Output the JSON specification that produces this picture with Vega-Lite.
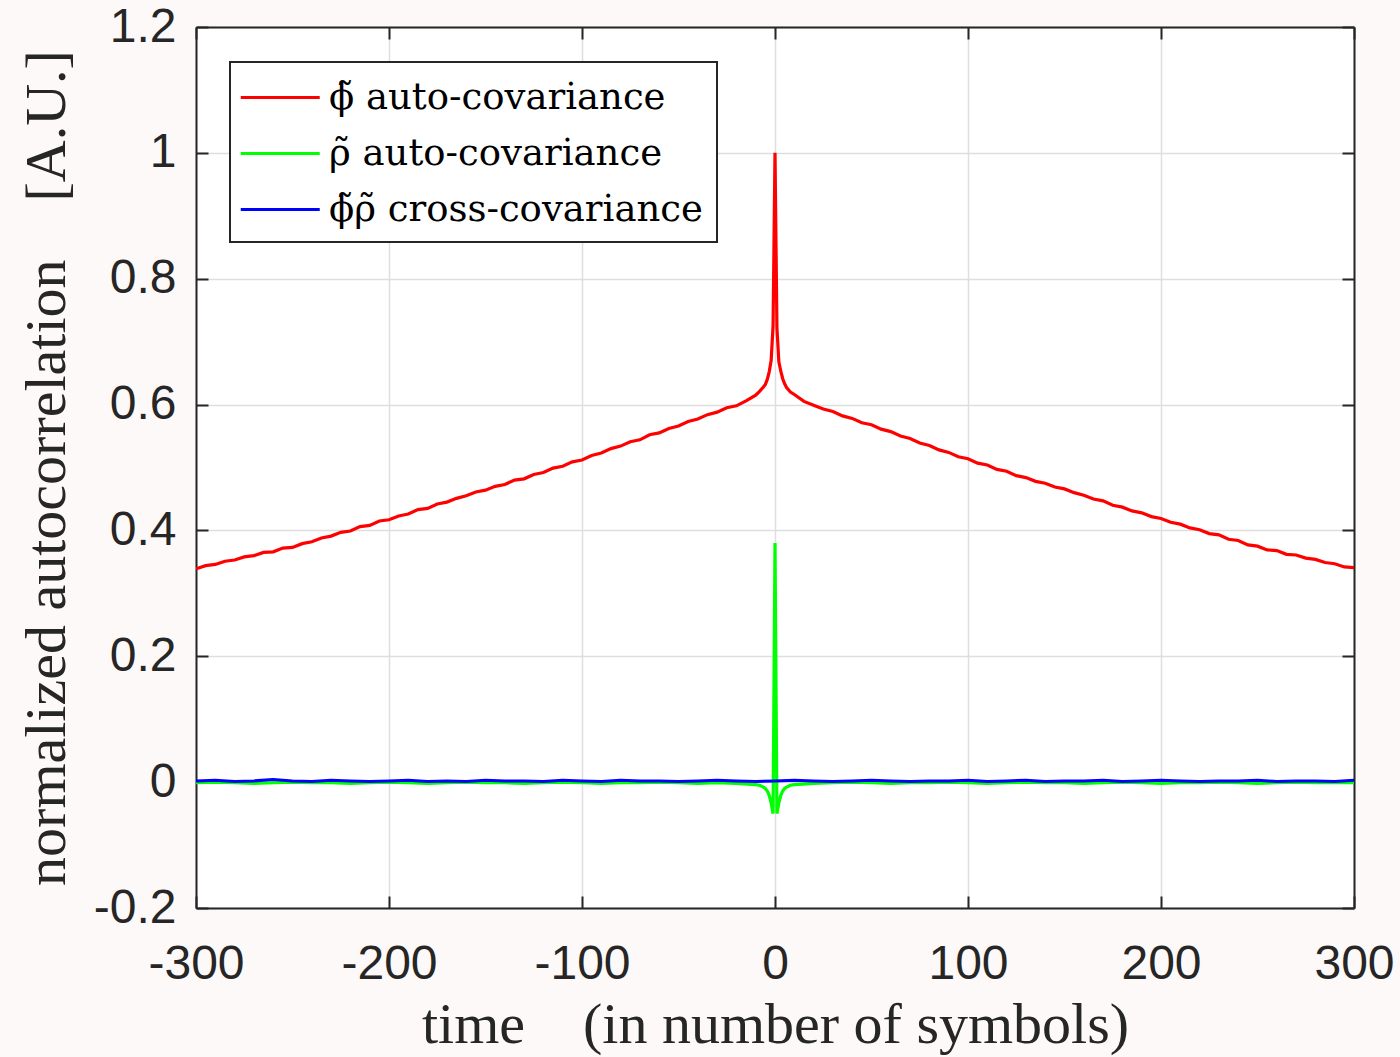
{
  "$schema": "https://vega.github.io/schema/vega-lite/v6.json",
  "width": 1158,
  "height": 881,
  "autosize": {"type": "none"},
  "padding": {"left": 196, "top": 27, "right": 46, "bottom": 149},
  "background": "#fdf9f8",
  "config": {
    "view": {"fill": "white", "stroke": null},
    "axis": {
      "labelFont": "Liberation Sans",
      "labelFontSize": 48,
      "labelColor": "#262626",
      "titleFont": "Liberation Serif",
      "titleFontSize": 58,
      "titleFontWeight": "normal",
      "titleColor": "#262626",
      "domainColor": "#262626",
      "domainWidth": 2,
      "tickColor": "#262626",
      "tickWidth": 2,
      "tickSize": -12,
      "gridColor": "#dedede",
      "gridWidth": 1.5
    }
  },
  "datasets": {
    "curves": [
      {"s": "phi", "x": -300, "y": 0.339}, {"s": "phi", "x": -295, "y": 0.344}, {"s": "phi", "x": -290, "y": 0.346},
      {"s": "phi", "x": -285, "y": 0.351}, {"s": "phi", "x": -280, "y": 0.353}, {"s": "phi", "x": -275, "y": 0.358},
      {"s": "phi", "x": -270, "y": 0.360}, {"s": "phi", "x": -265, "y": 0.365}, {"s": "phi", "x": -260, "y": 0.366},
      {"s": "phi", "x": -255, "y": 0.372}, {"s": "phi", "x": -250, "y": 0.373}, {"s": "phi", "x": -245, "y": 0.379},
      {"s": "phi", "x": -240, "y": 0.382}, {"s": "phi", "x": -235, "y": 0.388}, {"s": "phi", "x": -230, "y": 0.391},
      {"s": "phi", "x": -225, "y": 0.397}, {"s": "phi", "x": -220, "y": 0.399}, {"s": "phi", "x": -215, "y": 0.406},
      {"s": "phi", "x": -210, "y": 0.408}, {"s": "phi", "x": -205, "y": 0.415}, {"s": "phi", "x": -200, "y": 0.417},
      {"s": "phi", "x": -195, "y": 0.423}, {"s": "phi", "x": -190, "y": 0.426}, {"s": "phi", "x": -185, "y": 0.433},
      {"s": "phi", "x": -180, "y": 0.435}, {"s": "phi", "x": -175, "y": 0.442}, {"s": "phi", "x": -170, "y": 0.445},
      {"s": "phi", "x": -165, "y": 0.451}, {"s": "phi", "x": -160, "y": 0.455}, {"s": "phi", "x": -155, "y": 0.461},
      {"s": "phi", "x": -150, "y": 0.464}, {"s": "phi", "x": -145, "y": 0.470}, {"s": "phi", "x": -140, "y": 0.473},
      {"s": "phi", "x": -135, "y": 0.480}, {"s": "phi", "x": -130, "y": 0.482}, {"s": "phi", "x": -125, "y": 0.489},
      {"s": "phi", "x": -120, "y": 0.492}, {"s": "phi", "x": -115, "y": 0.499}, {"s": "phi", "x": -110, "y": 0.502},
      {"s": "phi", "x": -105, "y": 0.509}, {"s": "phi", "x": -100, "y": 0.512}, {"s": "phi", "x": -95, "y": 0.519},
      {"s": "phi", "x": -90, "y": 0.523}, {"s": "phi", "x": -85, "y": 0.530}, {"s": "phi", "x": -80, "y": 0.534},
      {"s": "phi", "x": -75, "y": 0.541}, {"s": "phi", "x": -70, "y": 0.544}, {"s": "phi", "x": -65, "y": 0.552},
      {"s": "phi", "x": -60, "y": 0.555}, {"s": "phi", "x": -55, "y": 0.562}, {"s": "phi", "x": -50, "y": 0.566},
      {"s": "phi", "x": -45, "y": 0.573}, {"s": "phi", "x": -40, "y": 0.577}, {"s": "phi", "x": -35, "y": 0.584},
      {"s": "phi", "x": -30, "y": 0.588}, {"s": "phi", "x": -25, "y": 0.595}, {"s": "phi", "x": -20, "y": 0.598},
      {"s": "phi", "x": -15, "y": 0.606}, {"s": "phi", "x": -10, "y": 0.615}, {"s": "phi", "x": -8, "y": 0.621},
      {"s": "phi", "x": -6, "y": 0.628}, {"s": "phi", "x": -5, "y": 0.632}, {"s": "phi", "x": -4, "y": 0.640},
      {"s": "phi", "x": -3, "y": 0.652}, {"s": "phi", "x": -2, "y": 0.670}, {"s": "phi", "x": -1, "y": 0.725},
      {"s": "phi", "x": 0, "y": 1.0},
      {"s": "phi", "x": 1, "y": 0.722}, {"s": "phi", "x": 2, "y": 0.668}, {"s": "phi", "x": 3, "y": 0.653},
      {"s": "phi", "x": 4, "y": 0.641}, {"s": "phi", "x": 5, "y": 0.633}, {"s": "phi", "x": 6, "y": 0.627},
      {"s": "phi", "x": 8, "y": 0.620}, {"s": "phi", "x": 10, "y": 0.616}, {"s": "phi", "x": 15, "y": 0.605},
      {"s": "phi", "x": 20, "y": 0.599}, {"s": "phi", "x": 25, "y": 0.593}, {"s": "phi", "x": 30, "y": 0.589},
      {"s": "phi", "x": 35, "y": 0.582}, {"s": "phi", "x": 40, "y": 0.578}, {"s": "phi", "x": 45, "y": 0.571},
      {"s": "phi", "x": 50, "y": 0.568}, {"s": "phi", "x": 55, "y": 0.561}, {"s": "phi", "x": 60, "y": 0.557},
      {"s": "phi", "x": 65, "y": 0.550}, {"s": "phi", "x": 70, "y": 0.546}, {"s": "phi", "x": 75, "y": 0.539},
      {"s": "phi", "x": 80, "y": 0.535}, {"s": "phi", "x": 85, "y": 0.528}, {"s": "phi", "x": 90, "y": 0.524},
      {"s": "phi", "x": 95, "y": 0.517}, {"s": "phi", "x": 100, "y": 0.514}, {"s": "phi", "x": 105, "y": 0.507},
      {"s": "phi", "x": 110, "y": 0.504}, {"s": "phi", "x": 115, "y": 0.497}, {"s": "phi", "x": 120, "y": 0.494},
      {"s": "phi", "x": 125, "y": 0.487}, {"s": "phi", "x": 130, "y": 0.484}, {"s": "phi", "x": 135, "y": 0.478},
      {"s": "phi", "x": 140, "y": 0.475}, {"s": "phi", "x": 145, "y": 0.469}, {"s": "phi", "x": 150, "y": 0.466},
      {"s": "phi", "x": 155, "y": 0.460}, {"s": "phi", "x": 160, "y": 0.456}, {"s": "phi", "x": 165, "y": 0.450},
      {"s": "phi", "x": 170, "y": 0.447}, {"s": "phi", "x": 175, "y": 0.440}, {"s": "phi", "x": 180, "y": 0.437},
      {"s": "phi", "x": 185, "y": 0.431}, {"s": "phi", "x": 190, "y": 0.428}, {"s": "phi", "x": 195, "y": 0.422},
      {"s": "phi", "x": 200, "y": 0.419}, {"s": "phi", "x": 205, "y": 0.413}, {"s": "phi", "x": 210, "y": 0.410},
      {"s": "phi", "x": 215, "y": 0.404}, {"s": "phi", "x": 220, "y": 0.401}, {"s": "phi", "x": 225, "y": 0.395},
      {"s": "phi", "x": 230, "y": 0.393}, {"s": "phi", "x": 235, "y": 0.386}, {"s": "phi", "x": 240, "y": 0.384},
      {"s": "phi", "x": 245, "y": 0.377}, {"s": "phi", "x": 250, "y": 0.375}, {"s": "phi", "x": 255, "y": 0.369},
      {"s": "phi", "x": 260, "y": 0.368}, {"s": "phi", "x": 265, "y": 0.362}, {"s": "phi", "x": 270, "y": 0.361},
      {"s": "phi", "x": 275, "y": 0.356}, {"s": "phi", "x": 280, "y": 0.354}, {"s": "phi", "x": 285, "y": 0.349},
      {"s": "phi", "x": 290, "y": 0.347}, {"s": "phi", "x": 295, "y": 0.342}, {"s": "phi", "x": 300, "y": 0.341},

      {"s": "rho", "x": -300, "y": -0.001}, {"s": "rho", "x": -290, "y": 0.000}, {"s": "rho", "x": -280, "y": -0.001},
      {"s": "rho", "x": -270, "y": -0.002}, {"s": "rho", "x": -260, "y": -0.001}, {"s": "rho", "x": -250, "y": 0.000},
      {"s": "rho", "x": -240, "y": -0.001}, {"s": "rho", "x": -230, "y": -0.001}, {"s": "rho", "x": -220, "y": -0.002},
      {"s": "rho", "x": -210, "y": -0.001}, {"s": "rho", "x": -200, "y": 0.000}, {"s": "rho", "x": -190, "y": -0.001},
      {"s": "rho", "x": -180, "y": -0.002}, {"s": "rho", "x": -170, "y": -0.001}, {"s": "rho", "x": -160, "y": 0.000},
      {"s": "rho", "x": -150, "y": -0.001}, {"s": "rho", "x": -140, "y": -0.001}, {"s": "rho", "x": -130, "y": -0.002},
      {"s": "rho", "x": -120, "y": -0.001}, {"s": "rho", "x": -110, "y": 0.000}, {"s": "rho", "x": -100, "y": -0.001},
      {"s": "rho", "x": -90, "y": -0.002}, {"s": "rho", "x": -80, "y": -0.001}, {"s": "rho", "x": -70, "y": -0.001},
      {"s": "rho", "x": -60, "y": 0.000}, {"s": "rho", "x": -50, "y": -0.001}, {"s": "rho", "x": -40, "y": -0.002},
      {"s": "rho", "x": -30, "y": -0.001}, {"s": "rho", "x": -20, "y": -0.002}, {"s": "rho", "x": -14, "y": -0.003},
      {"s": "rho", "x": -10, "y": -0.004}, {"s": "rho", "x": -8, "y": -0.005}, {"s": "rho", "x": -6, "y": -0.008},
      {"s": "rho", "x": -5, "y": -0.010}, {"s": "rho", "x": -4, "y": -0.014}, {"s": "rho", "x": -3, "y": -0.021},
      {"s": "rho", "x": -2, "y": -0.033}, {"s": "rho", "x": -1, "y": -0.050}, {"s": "rho", "x": 0, "y": 0.380},
      {"s": "rho", "x": 1, "y": -0.050}, {"s": "rho", "x": 2, "y": -0.033}, {"s": "rho", "x": 3, "y": -0.021},
      {"s": "rho", "x": 4, "y": -0.014}, {"s": "rho", "x": 5, "y": -0.010}, {"s": "rho", "x": 6, "y": -0.008},
      {"s": "rho", "x": 8, "y": -0.005}, {"s": "rho", "x": 10, "y": -0.004}, {"s": "rho", "x": 14, "y": -0.003},
      {"s": "rho", "x": 20, "y": -0.002}, {"s": "rho", "x": 30, "y": -0.001}, {"s": "rho", "x": 40, "y": 0.000},
      {"s": "rho", "x": 50, "y": -0.001}, {"s": "rho", "x": 60, "y": -0.002}, {"s": "rho", "x": 70, "y": -0.001},
      {"s": "rho", "x": 80, "y": -0.001}, {"s": "rho", "x": 90, "y": 0.000}, {"s": "rho", "x": 100, "y": -0.001},
      {"s": "rho", "x": 110, "y": -0.002}, {"s": "rho", "x": 120, "y": -0.001}, {"s": "rho", "x": 130, "y": 0.000},
      {"s": "rho", "x": 140, "y": -0.001}, {"s": "rho", "x": 150, "y": -0.001}, {"s": "rho", "x": 160, "y": -0.002},
      {"s": "rho", "x": 170, "y": -0.001}, {"s": "rho", "x": 180, "y": 0.000}, {"s": "rho", "x": 190, "y": -0.001},
      {"s": "rho", "x": 200, "y": -0.002}, {"s": "rho", "x": 210, "y": -0.001}, {"s": "rho", "x": 220, "y": -0.001},
      {"s": "rho", "x": 230, "y": 0.000}, {"s": "rho", "x": 240, "y": -0.001}, {"s": "rho", "x": 250, "y": -0.002},
      {"s": "rho", "x": 260, "y": -0.001}, {"s": "rho", "x": 270, "y": 0.000}, {"s": "rho", "x": 280, "y": -0.001},
      {"s": "rho", "x": 290, "y": -0.001}, {"s": "rho", "x": 300, "y": -0.001},

      {"s": "cross", "x": -300, "y": 0.002}, {"s": "cross", "x": -290, "y": 0.003}, {"s": "cross", "x": -280, "y": 0.001},
      {"s": "cross", "x": -270, "y": 0.002}, {"s": "cross", "x": -260, "y": 0.004}, {"s": "cross", "x": -250, "y": 0.002},
      {"s": "cross", "x": -240, "y": 0.001}, {"s": "cross", "x": -230, "y": 0.003}, {"s": "cross", "x": -220, "y": 0.002},
      {"s": "cross", "x": -210, "y": 0.001}, {"s": "cross", "x": -200, "y": 0.002}, {"s": "cross", "x": -190, "y": 0.003},
      {"s": "cross", "x": -180, "y": 0.001}, {"s": "cross", "x": -170, "y": 0.002}, {"s": "cross", "x": -160, "y": 0.001},
      {"s": "cross", "x": -150, "y": 0.003}, {"s": "cross", "x": -140, "y": 0.002}, {"s": "cross", "x": -130, "y": 0.002},
      {"s": "cross", "x": -120, "y": 0.001}, {"s": "cross", "x": -110, "y": 0.003}, {"s": "cross", "x": -100, "y": 0.002},
      {"s": "cross", "x": -90, "y": 0.001}, {"s": "cross", "x": -80, "y": 0.003}, {"s": "cross", "x": -70, "y": 0.002},
      {"s": "cross", "x": -60, "y": 0.002}, {"s": "cross", "x": -50, "y": 0.001}, {"s": "cross", "x": -40, "y": 0.002},
      {"s": "cross", "x": -30, "y": 0.003}, {"s": "cross", "x": -20, "y": 0.002}, {"s": "cross", "x": -10, "y": 0.001},
      {"s": "cross", "x": 0, "y": 0.002}, {"s": "cross", "x": 10, "y": 0.003}, {"s": "cross", "x": 20, "y": 0.002},
      {"s": "cross", "x": 30, "y": 0.001}, {"s": "cross", "x": 40, "y": 0.002}, {"s": "cross", "x": 50, "y": 0.003},
      {"s": "cross", "x": 60, "y": 0.002}, {"s": "cross", "x": 70, "y": 0.001}, {"s": "cross", "x": 80, "y": 0.002},
      {"s": "cross", "x": 90, "y": 0.002}, {"s": "cross", "x": 100, "y": 0.003}, {"s": "cross", "x": 110, "y": 0.001},
      {"s": "cross", "x": 120, "y": 0.002}, {"s": "cross", "x": 130, "y": 0.003}, {"s": "cross", "x": 140, "y": 0.001},
      {"s": "cross", "x": 150, "y": 0.002}, {"s": "cross", "x": 160, "y": 0.002}, {"s": "cross", "x": 170, "y": 0.003},
      {"s": "cross", "x": 180, "y": 0.001}, {"s": "cross", "x": 190, "y": 0.002}, {"s": "cross", "x": 200, "y": 0.003},
      {"s": "cross", "x": 210, "y": 0.002}, {"s": "cross", "x": 220, "y": 0.001}, {"s": "cross", "x": 230, "y": 0.002},
      {"s": "cross", "x": 240, "y": 0.002}, {"s": "cross", "x": 250, "y": 0.003}, {"s": "cross", "x": 260, "y": 0.001},
      {"s": "cross", "x": 270, "y": 0.002}, {"s": "cross", "x": 280, "y": 0.002}, {"s": "cross", "x": 290, "y": 0.001},
      {"s": "cross", "x": 300, "y": 0.003}
    ]
  },
  "data": {"name": "curves"},
  "resolve": {"axis": {"x": "independent", "y": "independent"}},
  "layer": [
    {
      "transform": [{"filter": "datum.s == 'phi'"}],
      "mark": {"type": "line", "strokeWidth": 3.2, "clip": true},
      "encoding": {
        "x": {
          "field": "x", "type": "quantitative",
          "scale": {"domain": [-300, 300], "nice": false, "zero": false},
          "axis": {
            "orient": "bottom", "values": [-300, -200, -100, 0, 100, 200, 300],
            "grid": true, "labelPadding": 44, "labelFlush": false,
            "labelExpr": "replace(format(datum.value, '~g'), '\u2212', '-')",
            "title": "time\u2003(in number of symbols)", "titlePadding": 8
          }
        },
        "y": {
          "field": "y", "type": "quantitative",
          "scale": {"domain": [-0.2, 1.2], "nice": false, "zero": false},
          "axis": {
            "orient": "left", "values": [-0.2, 0, 0.2, 0.4, 0.6, 0.8, 1, 1.2],
            "grid": true, "labelPadding": 32, "labelFlush": false,
            "labelExpr": "replace(format(datum.value, '~g'), '\u2212', '-')",
            "title": "normalized autocorrelation\u2003[A.U.]", "titlePadding": 17
          }
        },
        "color": {
          "field": "s", "type": "nominal",
          "scale": {"domain": ["phi", "rho", "cross"], "range": ["#ff0000", "#00ff00", "#0000ff"]},
          "legend": {
            "orient": "none", "legendX": 34, "legendY": 35, "title": null,
            "symbolType": "M-1,0H3", "symbolSize": 1560, "symbolStrokeWidth": 3, "symbolOffset": -5,
            "labelFont": "DejaVu Serif", "labelFontSize": 37, "labelColor": "#000000",
            "labelOffset": 47, "rowPadding": 16, "padding": 14, "labelLimit": 600,
            "fillColor": "white", "strokeColor": "#262626",
            "labelExpr": "datum.label == 'phi' ? 'ϕ̃ auto-covariance' : datum.label == 'rho' ? 'ρ̃ auto-covariance' : 'ϕ̃ρ̃ cross-covariance'",
            "encode": {"legend": {"update": {"strokeWidth": {"value": 2}}}}
          }
        }
      }
    },
    {
      "transform": [{"filter": "datum.s == 'rho'"}],
      "mark": {"type": "line", "strokeWidth": 3.2, "clip": true},
      "encoding": {
        "x": {"field": "x", "type": "quantitative", "axis": null},
        "y": {"field": "y", "type": "quantitative", "axis": null},
        "color": {"field": "s", "type": "nominal"}
      }
    },
    {
      "transform": [{"filter": "datum.s == 'cross'"}],
      "mark": {"type": "line", "strokeWidth": 3, "clip": true},
      "encoding": {
        "x": {
          "field": "x", "type": "quantitative",
          "axis": {"orient": "top", "values": [-300, -200, -100, 0, 100, 200, 300], "labels": false, "title": null, "grid": false}
        },
        "y": {
          "field": "y", "type": "quantitative",
          "axis": {"orient": "right", "values": [-0.2, 0, 0.2, 0.4, 0.6, 0.8, 1, 1.2], "labels": false, "title": null, "grid": false}
        },
        "color": {"field": "s", "type": "nominal"}
      }
    }
  ]
}
